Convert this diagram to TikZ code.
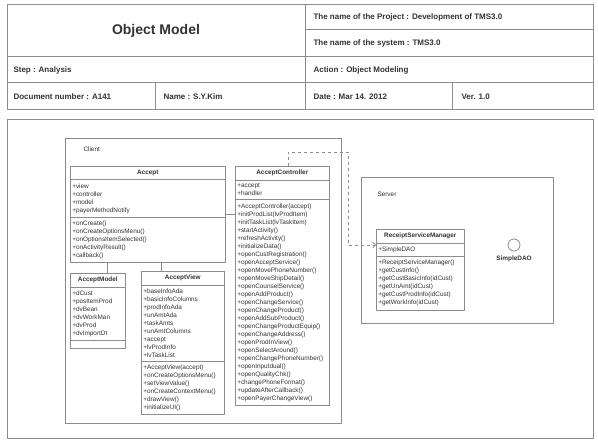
\documentclass[tikz,border=0pt]{standalone}
\usepackage{fontspec}
\setmainfont{Liberation Sans}
\usetikzlibrary{shapes.multipart,arrows.meta,positioning}
\definecolor{rulegray}{HTML}{8C8C8C}
\definecolor{inkgray}{HTML}{333333}
\newcommand{\clstitle}[1]{\hspace*{\fill}\textbf{#1}\hspace*{\fill}}

\begin{document}
\begin{tikzpicture}[x=1pt,y=-1pt,
  cls/.style={draw=rulegray,line width=0.6pt,rectangle split,rectangle split parts=3,
    rectangle split empty part height=1pt,inner xsep=2pt,inner ysep=3.5pt,
    anchor=north west,text width=#1,align=left,text=inkgray,
    font=\fontsize{6.4}{8}\selectfont},
  pkg/.style={draw=rulegray,line width=0.9pt,anchor=north west,inner sep=0pt},
  hd/.style={anchor=west,font=\fontsize{8}{9}\selectfont\bfseries,text=inkgray},
  lbl/.style={anchor=west,font=\fontsize{6.4}{8}\selectfont,text=inkgray},
  link/.style={draw=rulegray,line width=0.6pt},
  dep/.style={draw=rulegray,line width=0.6pt,dashed,-{Straight Barb[length=3pt]}}]

\useasboundingbox[fill=white] (0,0) rectangle (598,441);

\draw[rulegray,line width=1pt] (7,5) rectangle (593,110) (305,5) -- (305,110)
  (305,30) -- (593,30) (7,57) -- (593,57) (7,83) -- (593,83)
  (155,83) -- (155,110) (452,83) -- (452,110);
\draw[rulegray,line width=1pt] (7,120) rectangle (593,438);

\node[font=\fontsize{14}{16}\selectfont\bfseries,text=inkgray] (objmodel) at (156,31) {Object Model};
\node[hd] (project) at (310,17.5) {The name of the Project : Development of TMS3.0};
\node[hd] (system) at (310,43.5) {The name of the system : TMS3.0};
\node[hd] (step) at (10,70) {Step : Analysis};
\node[hd] (action) at (310,70) {Action : Object Modeling};
\node[hd] (docnum) at (10,96.5) {Document number : A141};
\node[hd] (author) at (160,96.5) {Name : S.Y.Kim};
\node[hd] (date) at (310,96.5) {Date : Mar 14. 2012};
\node[hd] (version) at (458,96.5) {Ver. 1.0};

\node[pkg,minimum width=276pt,minimum height=285pt] (clientpkg) at (65,138) {};
\node[lbl] (client) at (80,149) {Client};
\node[pkg,minimum width=192pt,minimum height=146pt] (serverpkg) at (361,177) {};
\node[lbl] (server) at (374,194) {Server};

\node[cls=151pt] (accept) at (70,166) {\clstitle{Accept}
  \nodepart{two}+view\\+controller\\+model\\+payerMethodNotify
  \nodepart{three}+onCreate()\\+onCreateOptionsMenu()\\+onOptionsItemSelected()\\+onActivityResult()\\+callback()};
\node[cls=51pt] (model) at (70,273) {\clstitle{AcceptModel}
  \nodepart{two}+dCust\\+posItemProd\\+dvBean\\+dvWorkMan\\+dvProd\\+dvImportDt
  \nodepart{three}};
\node[cls=79pt] (view) at (141,271) {\clstitle{AcceptView}
  \nodepart{two}+baseInfoAda\\+basicInfoColumns\\+prodInfoAda\\+unAmtAda\\+taskAmts\\+unAmtColumns\\+accept\\+lvProdInfo\\+lvTaskList
  \nodepart{three}+AcceptView(accept)\\+onCreateOptionsMenu()\\+setViewValue()\\+onCreateContextMenu()\\+drawView()\\+initializeUI()};
\node[cls=90pt] (ctrl) at (235,166) {\clstitle{AcceptController}
  \nodepart{two}+accept\\+handler
  \nodepart{three}+AcceptController(accept)\\+initProdList(lvProdItem)\\+initTaskList(lvTaskItem)\\+startActivity()\\+refreshActivity()\\+initializeData()\\+openCustRegistration()\\+openAcceptService()\\+openMovePhoneNumber()\\+openMoveShipDetail()\\+openCounselService()\\+openAddProduct()\\+openChangeService()\\+openChangeProduct()\\+openAddSubProduct()\\+openChangeProductEquip()\\+openChangeAddress()\\+openProdInView()\\+openSelectAround()\\+openChangePhoneNumber()\\+openInputdual()\\+openQualityChk()\\+changePhoneFormat()\\+updateAfterCallback()\\+openPayerChangeView()};
\node[cls=84pt] (rsm) at (376,229) {\clstitle{ReceiptServiceManager}
  \nodepart{two}+SimpleDAO
  \nodepart{three}+ReceiptServiceManager()\\+getCustInfo()\\+getCustBasicInfo(idCust)\\+getUnAmt(idCust)\\+getCustProdInfo(idCust)\\+getWorkInfo(idCust)};

\node[circle,draw=rulegray,line width=0.8pt,minimum size=12pt,inner sep=0pt] (dao) at (514,245) {};
\node[below=1pt of dao,font=\fontsize{6.4}{8}\selectfont\bfseries,text=inkgray] (daolbl) {SimpleDAO};

\draw[link] (model.north) ++(9.5,0) coordinate (m1) -- (m1 |- accept.south);
\draw[link] (view.north) ++(-21.5,0) coordinate (v1) -- (v1 |- accept.south);
\draw[link] (accept.east) -- (accept.east -| ctrl.west);
\draw[dep] (ctrl.north) ++(6,0) coordinate (c1) -- (c1 |- 0,152) -| (348,245) -- (rsm.west |- 0,245);
\end{tikzpicture}
\end{document}
